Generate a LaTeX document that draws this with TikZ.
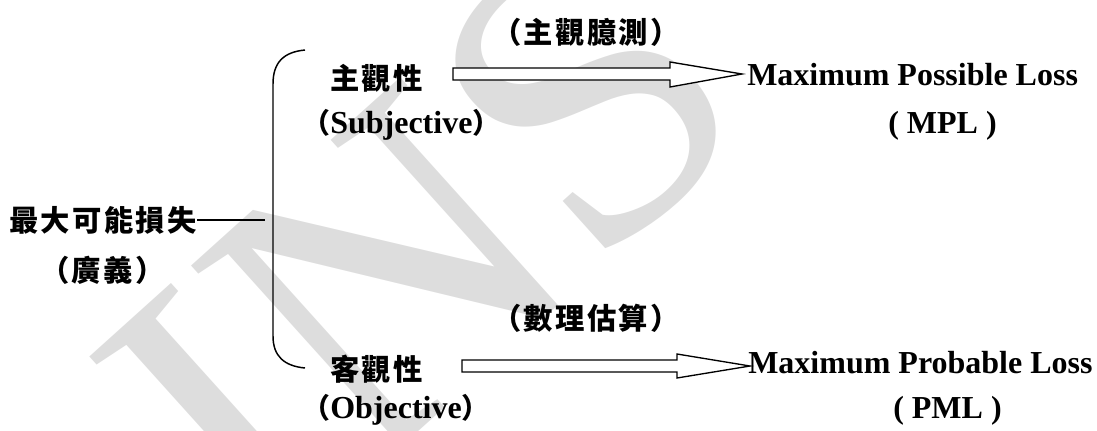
\documentclass[tikz,border=0pt]{standalone}
\usepackage{fontspec}
\setmainfont{Liberation Serif}
\newfontfamily\cjk[LetterSpace=8]{Noto Sans CJK TC}
\newfontfamily\cjkp{Noto Sans CJK TC}
\newfontfamily\wmfont{Liberation Serif}
\definecolor{wmgray}{RGB}{221,221,221}
\begin{document}
\begin{tikzpicture}[x=0.75pt,y=-0.75pt,
  lat/.style={inner sep=0pt,anchor=base west,font=\fontsize{24}{24}\selectfont\bfseries},
  cj/.style={inner sep=0pt,anchor=west,font=\fontsize{22}{22}\selectfont\cjk\bfseries},
  mix/.style={inner sep=0pt,anchor=base west,font=\fontsize{24}{24}\selectfont\bfseries},
  line/.style={line width=1.1pt,black},
  blockarrow/.style={line width=1pt,black,fill=white,line join=miter}]
\useasboundingbox (0,0) rectangle (1097,430);
% watermark
\node[inner sep=0pt,anchor=base west,rotate=42,text=wmgray,
  font=\fontsize{315}{315}\selectfont\wmfont] (wm) at (262,572) {INS};
% left root
\node[cj] (root) at (9,220) {最大可能損失};
\node[cj] (rootsub) at (40,270) {（廣義）};
\coordinate (brmid) at (265,220);
\draw[line,line width=0.8pt] (root.east) -- (brmid);
% bracket
\draw[line] (305,50) .. controls (284,52) and (273,62) .. (273,84) -- (273,336) .. controls (273,356) and (284,366) .. (305,368);
% upper branch
\node[cj] (tlab) at (492,32) {（主觀臆測）};
\node[cj] (subj) at (330,78) {主觀性};
\node[mix] (subjen) at (302,133) {{\fontsize{21}{21}\selectfont\cjkp （}Subjective{\fontsize{21}{21}\selectfont\cjkp ）}};
\node[lat] (mpl) at (747,85) {Maximum Possible Loss};
\node[lat] (mplab) at (888,133) {( MPL )};
\draw[blockarrow] (453,68) -- (670,68) -- (670,62) -- (742,74) -- (670,87) -- (670,80) -- (453,80) -- cycle;
% lower branch
\node[cj] (blab) at (492,318) {（數理估算）};
\node[cj] (obj) at (330,369) {客觀性};
\node[mix] (objen) at (302,418) {{\fontsize{21}{21}\selectfont\cjkp （}Objective{\fontsize{21}{21}\selectfont\cjkp ）}};
\node[lat] (pml) at (748,373) {Maximum Probable Loss};
\node[lat] (pmlab) at (893,418) {( PML )};
\draw[blockarrow] (462,360) -- (677,360) -- (677,354) -- (750,366) -- (677,378) -- (677,372) -- (462,372) -- cycle;
\end{tikzpicture}
\end{document}
